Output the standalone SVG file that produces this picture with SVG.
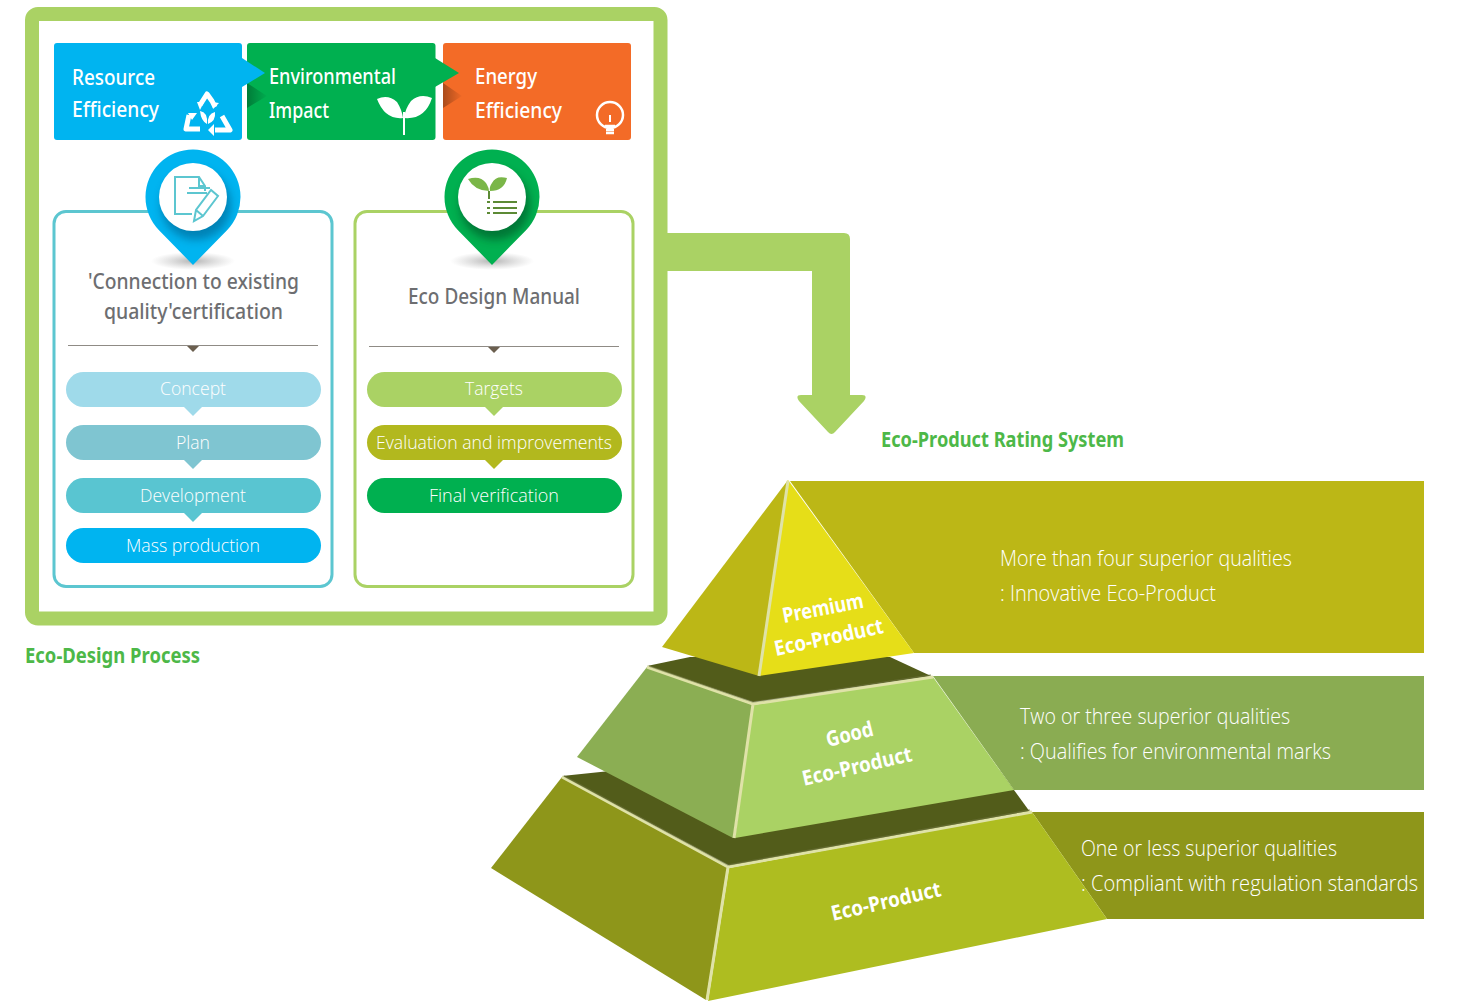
<svg xmlns="http://www.w3.org/2000/svg" width="1464" height="1001" viewBox="0 0 1464 1001">
<style>
text{font-family:"Noto Sans","Open Sans","Liberation Sans",sans-serif;}
.h{font-size:21px;fill:#fff;font-weight:500}
.p{font-size:19px;fill:#fff;font-family:"Open Sans","Noto Sans",sans-serif;font-weight:300}
.t{font-size:21px;fill:#6d6e71;font-weight:500}
.g{font-size:21px;fill:#4db848;font-weight:700}
.d{font-size:22px;fill:#fff;font-family:"Open Sans","Noto Sans",sans-serif;font-weight:300}
.b{font-size:21px;fill:#fff;font-weight:700}
.e{fill:none;stroke:#dfe2a8;stroke-width:3}
.o{fill:none;stroke:#6f7440;stroke-opacity:.55;stroke-width:1.500}
</style>
<defs>
<linearGradient id="sh" x1="0" x2="1"><stop offset="0" stop-color="#000" stop-opacity=".3"/><stop offset="1" stop-color="#000" stop-opacity=".02"/></linearGradient>
<radialGradient id="gs"><stop offset="0" stop-color="#777" stop-opacity=".55"/><stop offset="1" stop-color="#999" stop-opacity="0"/></radialGradient>
<filter id="blur" x="-40%" y="-40%" width="180%" height="180%"><feGaussianBlur stdDeviation="4"/></filter>
<clipPath id="cb"><path id="pinp" d="M0,68 L-34,33.200 A47.500,47.500 0 1 1 34,33.200 Z"/></clipPath>
</defs>

<g id="frame"><rect x="32" y="14" width="628.500" height="604.500" rx="6" fill="#fff" stroke="#aad264" stroke-width="14"/></g>

<g id="connectors">
<path d="M667,233 H844 Q850,233 850,239 V395 H862 Q868,395 864,401 L835,432 Q831.500,436 828,432 L799,401 Q795,395 801,395 H812 V271 H667 Z" fill="#aad264"/>
</g>

<g id="panel-left"><rect x="54" y="211.500" width="278" height="375" rx="12" fill="#fff" stroke="#5cc6d0" stroke-width="3"/>
<text class="t" x="88" y="289" textLength="211" lengthAdjust="spacingAndGlyphs">'Connection to existing</text>
<text class="t" x="104" y="319" textLength="179" lengthAdjust="spacingAndGlyphs">quality'certification</text>
<path d="M68,345.500 H318" stroke="#8f8b85" stroke-width="1"/><path d="M187,346 H199 L193,352 Z" fill="#6b5f4f"/></g>
<g id="panel-right"><rect x="355" y="211.500" width="278" height="375" rx="12" fill="#fff" stroke="#aad264" stroke-width="3"/>
<text class="t" x="408" y="304" textLength="172" lengthAdjust="spacingAndGlyphs">Eco Design Manual</text>
<path d="M369,346.500 H619" stroke="#8f8b85" stroke-width="1"/><path d="M488,347 H500 L494,353 Z" fill="#6b5f4f"/></g>

<g id="box-resource"><rect x="54" y="43" width="188" height="97" rx="3" fill="#00b4f0"/>
<text class="h" x="72" y="85" textLength="83" lengthAdjust="spacingAndGlyphs">Resource</text>
<text class="h" x="72" y="117" textLength="87" lengthAdjust="spacingAndGlyphs">Efficiency</text>
<g fill="none" stroke="#fff" stroke-width="5" stroke-linejoin="round"><path d="M200,105 L207,94 L212,101 L215,107"/><path d="M189,115 L186,129 H200"/><path d="M222,116 L230,130 H215"/></g>
<path d="M197,102 H204 L200,110 Z M212,102 L219,103 L213,109 Z M188,113 H197 L192,120 Z M214,124 V136 L208,130 Z" fill="#fff"/>
<path d="M200,111 Q208,112 207,124 Q201,121 200,111Z M215,112 Q216,121 208,124 Q207,114 215,112Z" fill="#fff"/></g>

<g id="box-env"><rect x="247" y="43" width="188.500" height="97" rx="3" fill="#00b050"/>
<path d="M247,83 L267,96 L247,108 Z" fill="url(#sh)"/>
<text class="h" x="269" y="84" textLength="127" lengthAdjust="spacingAndGlyphs">Environmental</text>
<text class="h" x="269" y="118" textLength="60" lengthAdjust="spacingAndGlyphs">Impact</text>
<path d="M377,99 Q388,94 397,102 Q402,110 403,118 Q385,120 377,99Z M432,98 Q420,93 411,101 Q405,109 404,118 Q425,120 432,98Z" fill="#fff"/><path d="M404,112 V135" stroke="#fff" stroke-width="2"/>
<path d="M242,58 L265,73 L242,87 Z" fill="#00b4f0"/></g>

<g id="box-energy"><rect x="443" y="43" width="188" height="97" rx="3" fill="#f36b27"/>
<path d="M443,83 L462,96 L443,108 Z" fill="url(#sh)"/>
<text class="h" x="475" y="84" textLength="62" lengthAdjust="spacingAndGlyphs">Energy</text>
<text class="h" x="475" y="118" textLength="87" lengthAdjust="spacingAndGlyphs">Efficiency</text>
<circle cx="610" cy="115" r="13" fill="none" stroke="#fff" stroke-width="2.500"/><path d="M610,115 V122" stroke="#fff" stroke-width="2"/><path d="M605,126 H615 M606,130 H614 M606,133 H614" stroke="#fff" stroke-width="2.500"/>
<path d="M435,58 L459,73 L435,87 Z" fill="#00b050"/></g>

<g id="pin-left" transform="translate(193,197)">
<ellipse cx="0" cy="64" rx="42" ry="9" fill="url(#gs)"/>
<use href="#pinp" fill="#00b4f0"/>
<g clip-path="url(#cb)"><circle cx="3" cy="8" r="35" fill="#005a85" opacity=".55" filter="url(#blur)"/></g>
<circle r="34" fill="#fff"/>
<g fill="none" stroke="#5cc6d0" stroke-width="2"><path d="M-1,17 H-18 V-20 H6 L12,-11 V-6 M6,-20 V-11 H12"/><path d="M-4,-9 H17 M-6,-4 H14"/><path d="M1,24 L3,13 L18,-7 L25,-1 L10,19 Z M3,13 L10,19"/></g></g>

<g id="pin-right" transform="translate(492,197)">
<ellipse cx="0" cy="64" rx="42" ry="9" fill="url(#gs)"/>
<use href="#pinp" fill="#00b050"/>
<g clip-path="url(#cb)"><circle cx="3" cy="8" r="35" fill="#00401f" opacity=".5" filter="url(#blur)"/></g>
<circle r="34" fill="#fff"/>
<path d="M-24,-18 Q-12,-22 -6,-14 Q-3,-9 -3,-6 Q-17,-6 -24,-18Z M15,-19 Q4,-22 0,-14 Q-3,-10 -2,-6 Q12,-6 15,-19Z" fill="#7ab648"/>
<path d="M-3,-6 V2" stroke="#5c8a35" stroke-width="2"/>
<path d="M-5,5 H-2 M-5,11 H-2 M-5,16 H-2 M1,5 H25 M1,11 H25 M1,16 H25" stroke="#5c8a35" stroke-width="1.800"/></g>

<g id="step-concept"><rect x="66" y="372" width="255" height="35" rx="17.500" fill="#9fdaea"/><path d="M184,407 H202 L193,416 Z" fill="#9fdaea"/><text class="p" x="160" y="395" textLength="66" lengthAdjust="spacingAndGlyphs">Concept</text></g>
<g id="step-plan"><rect x="66" y="425" width="255" height="35" rx="17.500" fill="#7fc5d1"/><path d="M184,460 H202 L193,469 Z" fill="#7fc5d1"/><text class="p" x="176" y="449" textLength="34" lengthAdjust="spacingAndGlyphs">Plan</text></g>
<g id="step-development"><rect x="66" y="478" width="255" height="35" rx="17.500" fill="#59c5d1"/><path d="M184,513 H202 L193,522 Z" fill="#59c5d1"/><text class="p" x="140" y="502" textLength="106" lengthAdjust="spacingAndGlyphs">Development</text></g>
<g id="step-mass"><rect x="66" y="528" width="255" height="35" rx="17.500" fill="#00b4f0"/><text class="p" x="126" y="552" textLength="134" lengthAdjust="spacingAndGlyphs">Mass production</text></g>

<g id="step-targets"><rect x="367" y="372" width="255" height="35" rx="17.500" fill="#aad264"/><path d="M485,407 H503 L494,416 Z" fill="#aad264"/><text class="p" x="465" y="395" textLength="58" lengthAdjust="spacingAndGlyphs">Targets</text></g>
<g id="step-evaluation"><rect x="367" y="425" width="255" height="35" rx="17.500" fill="#b2b81e"/><path d="M485,460 H503 L494,469 Z" fill="#b2b81e"/><text class="p" x="376" y="449" textLength="236" lengthAdjust="spacingAndGlyphs">Evaluation and improvements</text></g>
<g id="step-final"><rect x="367" y="478" width="255" height="35" rx="17.500" fill="#00b050"/><text class="p" x="429" y="502" textLength="130" lengthAdjust="spacingAndGlyphs">Final verification</text></g>

<text class="g" x="25" y="663" textLength="175" lengthAdjust="spacingAndGlyphs">Eco-Design Process</text>
<text class="g" x="881" y="447" textLength="243" lengthAdjust="spacingAndGlyphs">Eco-Product Rating System</text>

<g id="tier-bottom">
<path d="M1032,812 H1424 V919 H1107 Z" fill="#8e961a"/>
<path d="M562,776 L610,771 H1000 L1030,812 L730,866 Z" fill="#525c1a"/>
<path d="M562,777 L728,868 L706,1000 L491,868 Z" fill="#8e961a"/>
<path d="M729,868 L1032,812 L1107,919 L708,1001 Z" fill="#aebd20"/>
<path class="e" d="M562,777 L728,867 L1032,812 M728,867 L707,1000"/>
<path class="o" d="M564,776 L728,865 L1030,810"/>
<text class="b" transform="translate(833,921) rotate(-13)" textLength="112" lengthAdjust="spacingAndGlyphs">Eco-Product</text>
<text class="d" x="1081" y="856" textLength="256" lengthAdjust="spacingAndGlyphs">One or less superior qualities</text>
<text class="d" x="1081" y="891" textLength="337" lengthAdjust="spacingAndGlyphs">: Compliant with regulation standards</text>
</g>

<g id="tier-middle">
<path d="M933,676 H1424 V790 H1014 Z" fill="#8aac52"/>
<path d="M647,666 L690,657 H890 L931,676 L753,702 Z" fill="#525c1a"/>
<path d="M647,667 L753,705 L733,838 L577,757 Z" fill="#8bae53"/>
<path d="M753,705 L933,677 L1014,790 L735,838 Z" fill="#aad264"/>
<path class="e" d="M647,667 L753,704 L933,677 M753,704 L734,838"/>
<path class="o" d="M649,666 L753,702 L931,675"/>
<text class="b" transform="translate(828,747) rotate(-14)" textLength="48" lengthAdjust="spacingAndGlyphs">Good</text>
<text class="b" transform="translate(804,786) rotate(-13)" textLength="112" lengthAdjust="spacingAndGlyphs">Eco-Product</text>
<text class="d" x="1020" y="724" textLength="270" lengthAdjust="spacingAndGlyphs">Two or three superior qualities</text>
<text class="d" x="1020" y="759" textLength="311" lengthAdjust="spacingAndGlyphs">: Qualifies for environmental marks</text>
</g>

<g id="tier-top">
<path d="M790,481 H1424 V653 H914 Z" fill="#bcb716"/>
<path d="M662,647 L788,480 L759,676 Z" fill="#bcb716"/>
<path d="M788,480 L914,653 L759,676 Z" fill="#e6de18"/>
<path class="e" d="M788,481 L759,676"/>
<text class="b" transform="translate(784,623) rotate(-11)" textLength="82" lengthAdjust="spacingAndGlyphs">Premium</text>
<text class="b" transform="translate(776,656) rotate(-12)" textLength="111" lengthAdjust="spacingAndGlyphs">Eco-Product</text>
<text class="d" x="1000" y="566" textLength="292" lengthAdjust="spacingAndGlyphs">More than four superior qualities</text>
<text class="d" x="1000" y="601" textLength="216" lengthAdjust="spacingAndGlyphs">: Innovative Eco-Product</text>
</g>
</svg>
